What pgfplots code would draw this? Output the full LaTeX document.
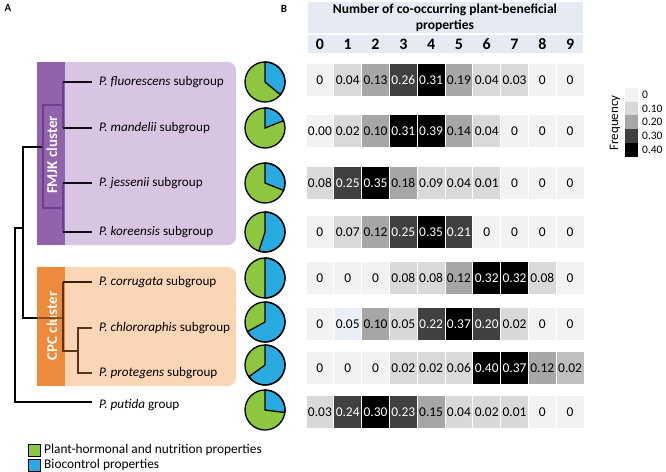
\documentclass[border=0pt]{standalone}
\usepackage{pgfplots}
\pgfplotsset{compat=1.18}
\usepackage{pgfplotstable}
\usepackage{fontspec}
\setmainfont{Carlito}

\definecolor{hz}{HTML}{F2F2F2}
\definecolor{hl}{HTML}{D9D9D9}
\definecolor{hs}{HTML}{BFBFBF}
\definecolor{hm}{HTML}{A6A6A6}
\definecolor{hd}{HTML}{404040}
\definecolor{hk}{HTML}{000000}
\definecolor{hb}{HTML}{EBEFF8}
\definecolor{hdr}{HTML}{E6EBF3}
\definecolor{purpD}{HTML}{9262AB}
\definecolor{purpL}{HTML}{D8C5E1}
\definecolor{purpT}{HTML}{6E3F8A}
\definecolor{orD}{HTML}{EE8A3B}
\definecolor{orL}{HTML}{FAD5B6}
\definecolor{orT}{HTML}{5C3415}
\definecolor{piegreen}{HTML}{8DC63F}
\definecolor{pieblue}{HTML}{29AAE1}

% heatmap cell, 1px white gap between columns
\pgfdeclareplotmark{cell}{%
  \pgfpathrectangle{\pgfpoint{-13.4bp}{-16bp}}{\pgfpoint{26.8bp}{32bp}}%
  \pgfusepath{fill}}
\pgfdeclareplotmark{swatch}{%
  \pgfpathrectangle{\pgfpoint{-6.5bp}{-6.9bp}}{\pgfpoint{13bp}{13.8bp}}%
  \pgfusepath{fill}}
% pie: blue share (meta, 0..1 -> 0..1000) clockwise from 12 o'clock
\pgfdeclareplotmark{pie}{%
  \pgfsetlinewidth{1.3bp}\pgfsetstrokecolor{black}%
  \pgfpathcircle{\pgfpointorigin}{20bp}\pgfsetfillcolor{piegreen}\pgfusepath{fill}%
  \pgfmathsetmacro\endang{90-0.36*\pgfplotspointmetatransformed}%
  \pgfpathmoveto{\pgfpointorigin}\pgfpathlineto{\pgfpoint{0bp}{20bp}}%
  \pgfpatharc{90}{\endang}{20bp}\pgfpathclose
  \pgfsetfillcolor{pieblue}\pgfusepath{fill,stroke}%
  \pgfpathcircle{\pgfpointorigin}{20bp}\pgfusepath{stroke}}

\pgfplotstableread{
col y v c
0 80 0 z
1 80 0.04 l
2 80 0.13 m
3 80 0.26 d
4 80 0.31 k
5 80 0.19 m
6 80 0.04 l
7 80 0.03 l
8 80 0 z
9 80 0 z
0 131 0.00 z
1 131 0.02 l
2 131 0.10 m
3 131 0.31 k
4 131 0.39 k
5 131 0.14 m
6 131 0.04 l
7 131 0 z
8 131 0 z
9 131 0 z
0 183 0.08 l
1 183 0.25 d
2 183 0.35 k
3 183 0.18 m
4 183 0.09 l
5 183 0.04 l
6 183 0.01 l
7 183 0 z
8 183 0 z
9 183 0 z
0 232 0 z
1 232 0.07 l
2 232 0.12 m
3 232 0.25 d
4 232 0.35 k
5 232 0.21 d
6 232 0 z
7 232 0 z
8 232 0 z
9 232 0 z
0 278 0 z
1 278 0 z
2 278 0 z
3 278 0.08 l
4 278 0.08 l
5 278 0.12 m
6 278 0.32 k
7 278 0.32 k
8 278 0.08 l
9 278 0 z
0 324 0 z
1 324 0.05 b
2 324 0.10 m
3 324 0.05 l
4 324 0.22 d
5 324 0.37 k
6 324 0.20 d
7 324 0.02 l
8 324 0 z
9 324 0 z
0 368 0 z
1 368 0 z
2 368 0 z
3 368 0.02 l
4 368 0.02 l
5 368 0.06 l
6 368 0.40 k
7 368 0.37 k
8 368 0.12 m
9 368 0.02 s
0 412 0.03 l
1 412 0.24 d
2 412 0.30 k
3 412 0.23 d
4 412 0.15 m
5 412 0.04 l
6 412 0.02 l
7 412 0.01 l
8 412 0 z
9 412 0 z
}\heat

\pgfplotstableread{
x y b
265 82 0.36
265 128 0.19
265 183 0.31
265 232 0.55
265 278 0.50
265 322 0.67
265 365 0.65
265 410 0.27
}\pies

\pgfplotstableread{
x y c lab
631.5 95 z 0
631.5 109 l 0.10
631.5 122 m 0.20
631.5 136 d 0.30
631.5 150 k 0.40
}\freqscale

\begin{document}
\begin{tikzpicture}
\begin{axis}[
  width=666bp, height=472bp, scale only axis,
  xmin=0, xmax=666, ymin=0, ymax=472, y dir=reverse,
  axis lines=none, clip=false,
  point meta min=0, point meta max=1,
  every node near coord/.append style={font=\fontsize{13.5}{14}\selectfont},
  ]
\path (axis cs:0,0) rectangle (axis cs:666,472);

% panel letters
\node[font=\fontsize{11}{11}\selectfont\bfseries] at (axis cs:8,8) {A};
\node[font=\fontsize{11}{11}\selectfont\bfseries] at (axis cs:284,9) {B};

% cluster boxes
\fill[purpL, rounded corners=8bp] (axis cs:37,62) rectangle (axis cs:236,245);
\fill[purpD] (axis cs:37,62) rectangle (axis cs:65,245);
\fill[orL, rounded corners=8bp] (axis cs:37,267) rectangle (axis cs:236,386);
\fill[orD] (axis cs:37,267) rectangle (axis cs:65,386);
\node[rotate=90, text=white, font=\fontsize{15}{15}\selectfont\bfseries] at (axis cs:52,155) {FMJK cluster};
\node[rotate=90, text=white, font=\fontsize{15}{15}\selectfont\bfseries] at (axis cs:52,326) {CPC cluster};

% tree
\begin{scope}[line width=2.4bp]
\draw[black] (axis cs:43,147) -- (axis cs:23,147) -- (axis cs:23,318) -- (axis cs:43,318);
\draw[black] (axis cs:23,228) -- (axis cs:15,228) -- (axis cs:15,402) -- (axis cs:92,402);
\draw[purpT] (axis cs:63,82) -- (axis cs:63,128);
\draw[purpT] (axis cs:63,183) -- (axis cs:63,232);
\draw[purpT] (axis cs:63,105) -- (axis cs:43,105) -- (axis cs:43,208) -- (axis cs:63,208);
\draw[black!85!purpT] (axis cs:63,82) -- (axis cs:92,82);
\draw[black!85!purpT] (axis cs:63,128) -- (axis cs:92,128);
\draw[black!85!purpT] (axis cs:63,183) -- (axis cs:92,183);
\draw[black!85!purpT] (axis cs:63,232) -- (axis cs:92,232);
\draw[orT!70!orD] (axis cs:37,318) -- (axis cs:63,318);
\draw[orT] (axis cs:63,282) -- (axis cs:63,351) -- (axis cs:78,351);
\draw[orT] (axis cs:92,328) -- (axis cs:78,328) -- (axis cs:78,373) -- (axis cs:92,373);
\draw[orT!60!black] (axis cs:63,282) -- (axis cs:92,282);
\end{scope}

% group labels
\begin{scope}[every node/.style={anchor=west, inner sep=0pt, font=\fontsize{13.2}{14}\selectfont}]
\node at (axis cs:99,82) {\textit{P. fluorescens} subgroup};
\node at (axis cs:99,128) {\textit{P. mandelii} subgroup};
\node at (axis cs:99,183) {\textit{P. jessenii} subgroup};
\node at (axis cs:99,232) {\textit{P. koreensis} subgroup};
\node at (axis cs:99,282) {\textit{P. corrugata} subgroup};
\node at (axis cs:99,328) {\textit{P. chlororaphis} subgroup};
\node at (axis cs:99,373) {\textit{P. protegens} subgroup};
\node at (axis cs:99,405) {\textit{P. putida} group};
\end{scope}

% pies
\addplot[scatter, only marks, mark=pie, point meta=explicit]
  table[x=x, y=y, meta=b] {\pies};

% header
\fill[hdr] (axis cs:308,2) rectangle (axis cs:583,33);
\fill[hdr] (axis cs:308,35) rectangle (axis cs:583,53);
\node[align=center, font=\fontsize{13.6}{16.5}\selectfont\bfseries] at (axis cs:445,18)
  {Number of co-occurring plant-beneficial\\properties};
\pgfplotsinvokeforeach{0,...,9}{
  \node[font=\fontsize{16}{16}\selectfont\bfseries] at (axis cs:{319.9+27.8*#1},44) {#1};
}

% heatmap
\addplot[scatter, only marks, point meta=explicit symbolic,
  x filter/.expression={319.9+27.8*x},
  scatter/classes={
    z={mark=cell, hz}, l={mark=cell, hl}, s={mark=cell, hs}, m={mark=cell, hm},
    d={mark=cell, hd}, k={mark=cell, hk}, b={mark=cell, hb}}]
  table[x=col, y=y, meta=c] {\heat};
\addplot[only marks, mark=none, point meta=explicit symbolic,
  x filter/.expression={319.9+27.8*x},
  nodes near coords={\ifdim\pgfplotspointmeta pt>0.195pt\color{white}\fi\pgfplotspointmeta},
  nodes near coords align=center]
  table[x=col, y=y, meta=v] {\heat};

% frequency scale
\addplot[scatter, only marks, point meta=explicit symbolic,
  scatter/classes={z={mark=swatch, hz}, l={mark=swatch, hl}, m={mark=swatch, hm},
    d={mark=swatch, hd}, k={mark=swatch, hk}}]
  table[x=x, y=y, meta=c] {\freqscale};
\addplot[only marks, mark=none, point meta=explicit symbolic,
  nodes near coords, nodes near coords align=right,
  every node near coord/.append style={font=\fontsize{11.5}{12}\selectfont, inner sep=0pt, xshift=10.5bp}]
  table[x=x, y=y, meta=lab] {\freqscale};
\node[rotate=90, font=\fontsize{13}{13}\selectfont] at (axis cs:615,123) {Frequency};

% legend
\draw[fill=piegreen, line width=1bp] (axis cs:28,444) rectangle (axis cs:40,456);
\draw[fill=pieblue, line width=1bp] (axis cs:28,459) rectangle (axis cs:40,471);
\node[anchor=west, inner sep=0pt, font=\fontsize{13.4}{14}\selectfont] at (axis cs:44,450) {Plant-hormonal and nutrition properties};
\node[anchor=west, inner sep=0pt, font=\fontsize{13.4}{14}\selectfont] at (axis cs:44,465) {Biocontrol properties};
\end{axis}
\end{tikzpicture}
\end{document}
